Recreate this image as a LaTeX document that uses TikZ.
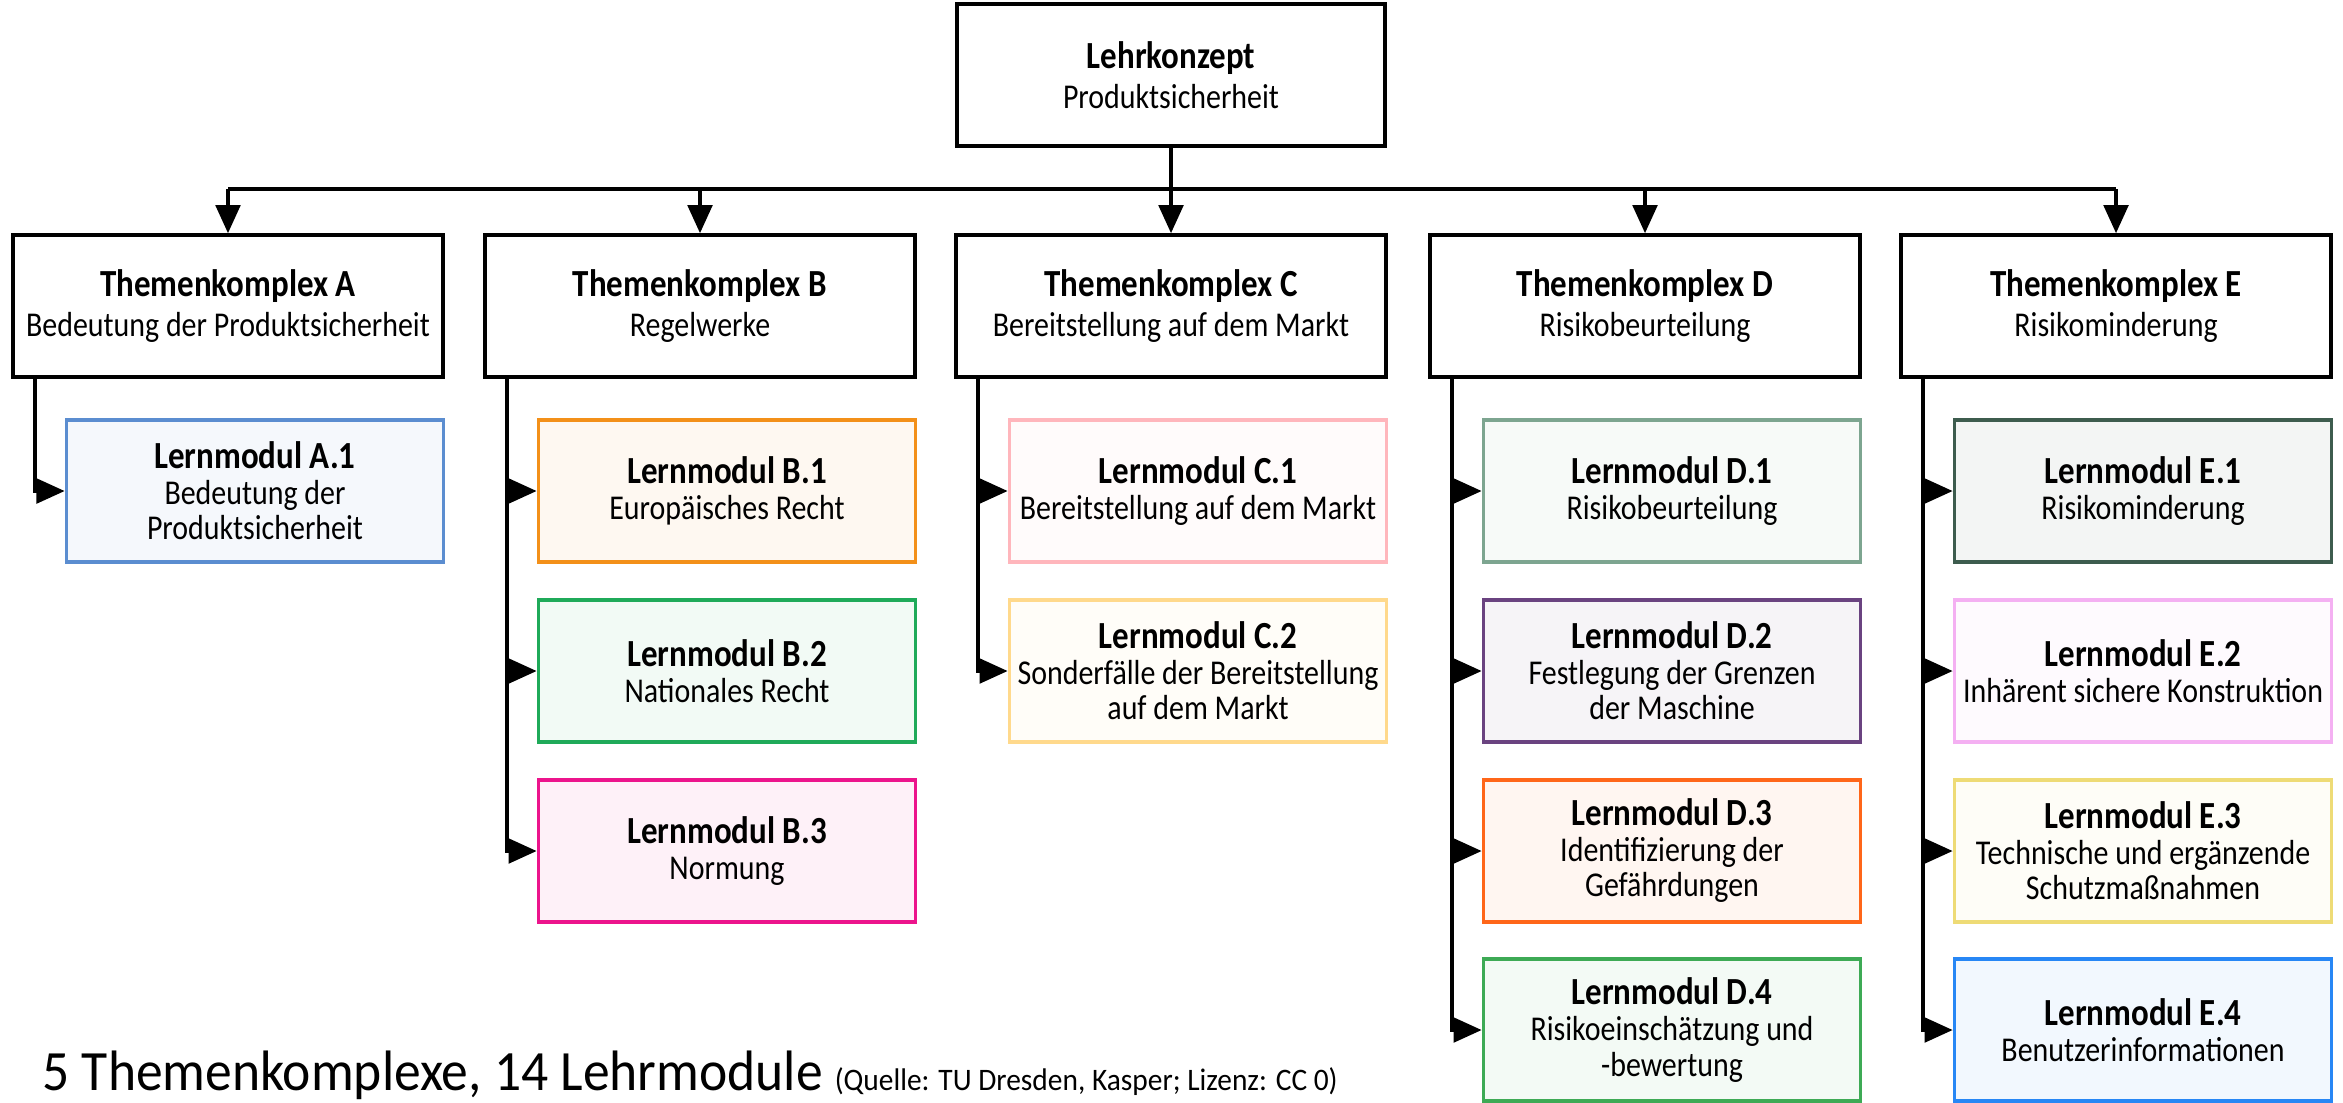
\documentclass[tikz,border=0pt]{standalone}
\usepackage{fontspec}
\setmainfont{Carlito}[FakeStretch=0.86]
\newfontfamily\capfont{Carlito}[FakeStretch=0.94]
\usetikzlibrary{arrows.meta}

\definecolor{modA1}{HTML}{5B8DD0}
\definecolor{modB1}{HTML}{F39019}
\definecolor{modB2}{HTML}{1FAA59}
\definecolor{modB3}{HTML}{EC148C}
\definecolor{modC1}{HTML}{FFB6BC}
\definecolor{modC2}{HTML}{FFD98C}
\definecolor{modD1}{HTML}{7DA590}
\definecolor{modD2}{HTML}{6A4380}
\definecolor{modD3}{HTML}{FF6619}
\definecolor{modD4}{HTML}{3DAA55}
\definecolor{modE1}{HTML}{3D5C4E}
\definecolor{modE2}{HTML}{F4B0F2}
\definecolor{modE3}{HTML}{EEDB76}
\definecolor{modE4}{HTML}{2787F5}

\newcommand{\titel}[1]{{\bfseries\fontsize{10.9}{11.2}\selectfont #1}}

\begin{document}
\begin{tikzpicture}[x=0.01cm, y=-0.01cm,
    box/.style={draw, line width=1pt, align=center, inner sep=0pt,
      font=\fontsize{9.9}{11.4}\selectfont},
    konzept/.style={box, minimum width=4.28cm, minimum height=1.42cm},
    komplex/.style={box, minimum width=4.3cm, minimum height=1.42cm},
    modul/.style={box, draw=#1, fill=#1!6, minimum width=3.77cm, minimum height=1.42cm,
      font=\fontsize{9.9}{10.1}\selectfont},
    arr/.style={line width=1pt, -{Triangle[length=8pt,width=7pt]}}]
  \useasboundingbox (0,0) rectangle (2343,1102);

  % Lehrkonzept
  \node [konzept] (root) at (1171,75) {\titel{Lehrkonzept}\\Produktsicherheit};

  % Themenkomplexe
  \node [komplex] (A) at (228,306)  {\titel{Themenkomplex A}\\Bedeutung der Produktsicherheit};
  \node [komplex] (B) at (700,306)  {\titel{Themenkomplex B}\\Regelwerke};
  \node [komplex] (C) at (1171,306) {\titel{Themenkomplex C}\\Bereitstellung auf dem Markt};
  \node [komplex] (D) at (1645,306) {\titel{Themenkomplex D}\\Risikobeurteilung};
  \node [komplex] (E) at (2116,306) {\titel{Themenkomplex E}\\Risikominderung};

  % Lernmodule
  \node [modul=modA1] (A1) at (255,491)  {\titel{Lernmodul A.1}\\Bedeutung der\\Produktsicherheit};
  \node [modul=modB1] (B1) at (727,491)  {\titel{Lernmodul B.1}\\Europäisches Recht};
  \node [modul=modB2] (B2) at (727,671)  {\titel{Lernmodul B.2}\\Nationales Recht};
  \node [modul=modB3] (B3) at (727,851)  {\titel{Lernmodul B.3}\\Normung};
  \node [modul=modC1] (C1) at (1198,491) {\titel{Lernmodul C.1}\\Bereitstellung auf dem Markt};
  \node [modul=modC2] (C2) at (1198,671) {\titel{Lernmodul C.2}\\Sonderfälle der Bereitstellung\\auf dem Markt};
  \node [modul=modD1] (D1) at (1672,491) {\titel{Lernmodul D.1}\\Risikobeurteilung};
  \node [modul=modD2] (D2) at (1672,671) {\titel{Lernmodul D.2}\\Festlegung der Grenzen\\der Maschine};
  \node [modul=modD3] (D3) at (1672,851) {\titel{Lernmodul D.3}\\Identifizierung der\\Gefährdungen};
  \node [modul=modD4] (D4) at (1672,1030) {\titel{Lernmodul D.4}\\Risikoeinschätzung und\\-bewertung};
  \node [modul=modE1] (E1) at (2143,491) {\titel{Lernmodul E.1}\\Risikominderung};
  \node [modul=modE2] (E2) at (2143,671) {\titel{Lernmodul E.2}\\Inhärent sichere Konstruktion};
  \node [modul=modE3] (E3) at (2143,851) {\titel{Lernmodul E.3}\\Technische und ergänzende\\Schutzmaßnahmen};
  \node [modul=modE4] (E4) at (2143,1030) {\titel{Lernmodul E.4}\\Benutzerinformationen};

  % Verteiler oben
  \coordinate (bus) at (1171,189);
  \draw [arr] (root.south) -- (C.north);
  \draw [line width=1pt] (A.north |- bus) -- (E.north |- bus);
  \foreach \t in {A,B,D,E}
    \draw [arr] (\t.north |- bus) -- (\t.north);

  % Zuordnung der Lernmodule
  \foreach \t/\m in {A/A1, B/B1, B/B2, B/B3, C/C1, C/C2, D/D1, D/D2, D/D3, D/D4, E/E1, E/E2, E/E3, E/E4}
    \draw [arr] ([xshift=0.24cm]\t.south west) |- (\m.west);

  \node [anchor=base west, inner sep=0pt] (caption) at (42,1090)
    {\capfont\fontsize{16.2}{16.2}\selectfont 5 Themenkomplexe, 14 Lehrmodule
     {\fontsize{8.9}{8.9}\selectfont (Quelle: TU Dresden, Kasper; Lizenz: CC 0)}};
\end{tikzpicture}
\end{document}
